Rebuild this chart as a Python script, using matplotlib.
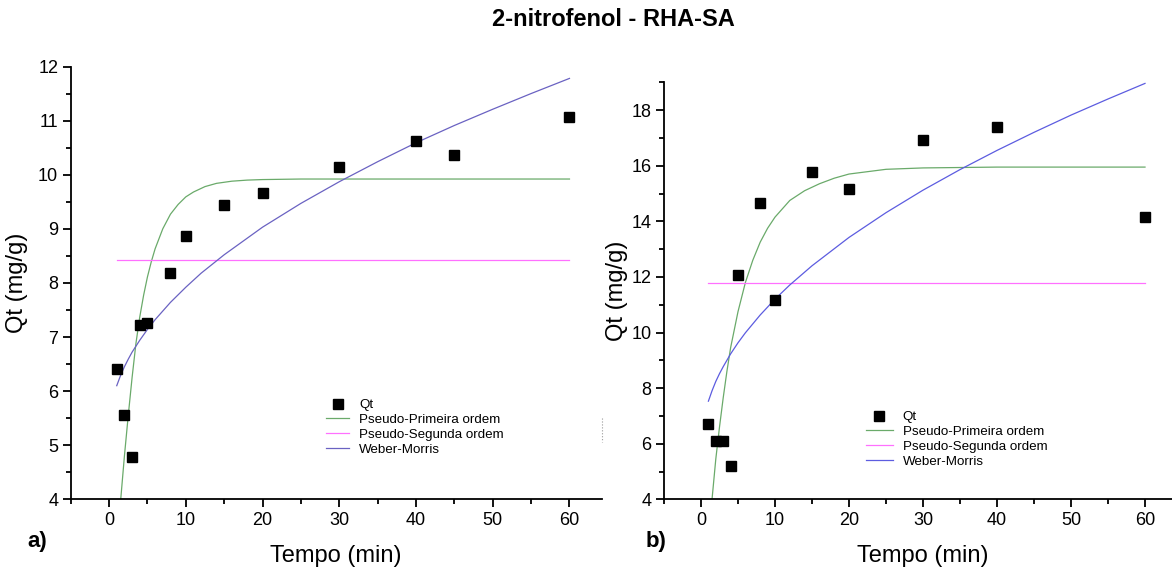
import matplotlib
matplotlib.use('Agg')
import matplotlib.pyplot as plt
from matplotlib.lines import Line2D
from matplotlib.ticker import MultipleLocator

plt.rcParams['font.family'] = ['Liberation Sans', 'DejaVu Sans']

# Experimental points, panel a)
t_a = [1, 2, 3, 4, 5, 8, 10, 15, 20, 30, 40, 45, 60]
qt_a = [6.40, 5.55, 4.78, 7.23, 7.26, 8.19, 8.86, 9.44, 9.66, 10.15, 10.62, 10.37, 11.06]

# Experimental points, panel b)
t_b = [1, 2, 3, 4, 5, 8, 10, 15, 20, 30, 40, 60]
qt_b = [6.71, 6.11, 6.11, 5.20, 12.07, 14.67, 11.17, 15.78, 15.16, 16.91, 17.40, 14.16]

# Model curves
pfo_t_a = [1.52, 2.0, 2.5, 3.0, 3.5, 4.0, 4.5, 5.0, 5.5, 6.0, 7.0, 8.0, 9.0, 10.0,
           11.0, 12.5, 14.0, 16.0, 18.0, 20.0, 25.0, 30.0, 40.0, 50.0, 60.0]
pfo_q_a = [4.00, 4.80, 5.55, 6.25, 6.88, 7.37, 7.77, 8.11, 8.39, 8.63, 9.00, 9.27, 9.45, 9.59,
           9.68, 9.78, 9.84, 9.88, 9.90, 9.91, 9.92, 9.92, 9.92, 9.92, 9.92]

pso_t_a = [1, 60]
pso_q_a = [8.42, 8.42]

wm_t = [1, 1.5, 2, 2.5, 3, 4, 5, 6, 8, 10, 12, 15, 20, 25, 30, 35, 40, 45, 50, 55, 60]
wm_q_a = [6.10, 6.29, 6.45, 6.59, 6.72, 6.94, 7.14, 7.32, 7.64, 7.92, 8.18, 8.52, 9.03, 9.47,
          9.87, 10.24, 10.59, 10.91, 11.21, 11.50, 11.78]

pfo_t_b = [1.49, 2.0, 2.5, 3.0, 3.5, 4.0, 5.0, 6.0, 7.0, 8.0, 9.0, 10.0, 12.0, 14.0,
           16.0, 18.0, 20.0, 25.0, 30.0, 40.0, 60.0]
pfo_q_b = [4.00, 5.45, 6.60, 7.65, 8.60, 9.45, 10.75, 11.80, 12.60, 13.25, 13.75, 14.15,
           14.75, 15.10, 15.35, 15.55, 15.70, 15.87, 15.92, 15.95, 15.95]

pso_t_b = [1, 60]
pso_q_b = [11.79, 11.79]

wm_q_b = [7.53, 7.91, 8.24, 8.52, 8.77, 9.23, 9.63, 9.99, 10.63, 11.20, 11.71, 12.40, 13.42,
          14.31, 15.12, 15.86, 16.55, 17.20, 17.82, 18.40, 18.96]

labels = ['Qt', 'Pseudo-Primeira ordem', 'Pseudo-Segunda ordem', 'Weber-Morris']
green = '#6aaa6a'
pink = '#ff70ff'

W, H = 1172, 570
fig = plt.figure(figsize=(W / 100, H / 100), dpi=100)


def add_panel(x0, x1, y_top, y_bot):
    return fig.add_axes([x0 / W, (H - y_bot) / H, (x1 - x0) / W, (y_bot - y_top) / H])


def style(ax, ymaj, ymin):
    for side in ['top', 'right']:
        ax.spines[side].set_visible(False)
    for side in ['left', 'bottom']:
        ax.spines[side].set_linewidth(1.3)
    ax.xaxis.set_major_locator(MultipleLocator(10))
    ax.xaxis.set_minor_locator(MultipleLocator(5))
    ax.yaxis.set_major_locator(MultipleLocator(ymaj))
    ax.yaxis.set_minor_locator(MultipleLocator(ymin))
    ax.tick_params(which='major', direction='out', length=6, width=1.3, labelsize=13, pad=3)
    ax.tick_params(which='minor', direction='out', length=3.5, width=1.3)
    ax.set_xlabel('Tempo (min)', fontsize=17)
    ax.set_ylabel('Qt (mg/g)', fontsize=17)


def draw(ax, t, q, pt, pq, st, sq, wq, blue, leg_xy, hlen):
    ax.plot(pt, pq, color=green, lw=0.9)
    ax.plot(st, sq, color=pink, lw=0.9)
    ax.plot(wm_t, wq, color=blue, lw=0.9)
    ax.plot(t, q, linestyle='none', marker='s', ms=7, color='black', zorder=5)
    handles = [Line2D([], [], linestyle='none', marker='s', ms=7, color='black'),
               Line2D([], [], color=green, lw=0.9),
               Line2D([], [], color=pink, lw=0.9),
               Line2D([], [], color=blue, lw=0.9)]
    ax.legend(handles, labels, loc='upper left',
              bbox_to_anchor=(leg_xy[0] / W, 1 - leg_xy[1] / H),
              bbox_transform=fig.transFigure, frameon=False, fontsize=9.6,
              handlelength=hlen, handletextpad=0.75, labelspacing=0.18,
              borderpad=0, borderaxespad=0)


# a)
ax_a = add_panel(70.7, 601.7, 66.5, 499.3)
draw(ax_a, t_a, qt_a, pfo_t_a, pfo_q_a, pso_t_a, pso_q_a, wm_q_a, '#6a62c2', (326, 399), 1.75)
ax_a.set_xlim(-5, 64.2)
ax_a.set_ylim(4, 12)
style(ax_a, 1, 0.5)
ax_a.xaxis.set_label_coords(0.5, -0.105)
ax_a.yaxis.set_label_coords(-0.08, 0.5)

# b)
ax_b = add_panel(664, 1182, 82.3, 499.3)
draw(ax_b, t_b, qt_b, pfo_t_b, pfo_q_b, pso_t_b, pso_q_b, wm_q_b, '#5c5ce0', (866, 411), 2.0)
ax_b.set_xlim(-5, 65)
ax_b.set_ylim(4, 19)
style(ax_b, 2, 1)
ax_b.xaxis.set_label_coords(0.5, -0.11)
ax_b.yaxis.set_label_coords(-0.07, 0.5)

fig.text(613 / W, 1 - 19 / H, '2-nitrofenol - RHA-SA', ha='center', va='center',
         fontsize=17, fontweight='bold')
fig.text(37 / W, 1 - 542 / H, 'a)', ha='center', va='center', fontsize=16, fontweight='bold')
fig.text(656 / W, 1 - 541 / H, 'b)', ha='center', va='center', fontsize=16, fontweight='bold')

# small leftover marks from the original figure edge
fig.add_artist(Line2D([601.7 / W] * 2, [1 - 418 / H, 1 - 442 / H],
                      linestyle=':', color='#999999', lw=0.8))

fig.savefig('out.png', dpi=100)
